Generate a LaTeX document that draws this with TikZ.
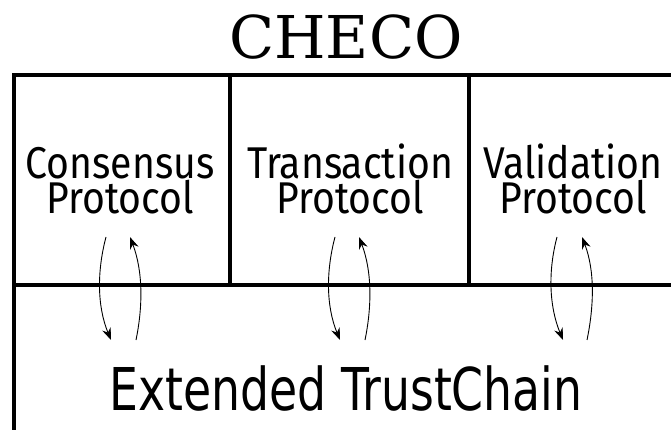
\documentclass[tikz,border=0pt]{standalone}
\usepackage{fontspec}
\newfontfamily\titlefont{DejaVu Serif}
\newfontfamily\protofont[FakeStretch=0.88]{Fira Sans}
\newfontfamily\chainfont[FakeStretch=0.775]{DejaVu Sans}
\usetikzlibrary{arrows.meta}

\begin{document}
\begin{tikzpicture}[x=1pt,y=-1pt,
    layer/.style={line width=4.4pt},
    proto/.style={font=\protofont\fontsize{44.5}{35}\selectfont, align=center, inner sep=0pt, anchor=south},
    flow/.style={line width=0.9pt, -{Stealth[length=12pt,width=9pt]}}]
      \useasboundingbox (0,0) rectangle (671,430);
      % layers
      \draw[layer, line join=miter] (680,75) -- (14,75) -- (14,440);
      \draw[layer] (14,285) -- (680,285);
      \draw[layer] (230,75) -- (230,285);
      \draw[layer] (469,75) -- (469,285);
      % labels
      \node[font=\titlefont\fontsize{59}{60}\selectfont, inner sep=0pt, anchor=base] (checo) at (346,59) {CHECO};
      \node[proto] (consensus)   at (120,214) {Consensus\\Protocol};
      \node[proto] (transaction) at (350,214) {Transaction\\Protocol};
      \node[proto] (validation)  at (573,214) {Validation\\Protocol};
      \node[font=\chainfont\fontsize{59}{60}\selectfont, inner sep=0pt, anchor=base] (chain) at (346,410) {Extended TrustChain};
      % ends of the arrows
      \coordinate (cons_d_top) at (106,237);  \coordinate (cons_d_bot) at (111,340);
      \coordinate (cons_u_bot) at (136,340);  \coordinate (cons_u_top) at (130,237);
      \coordinate (tran_d_top) at (335,237);  \coordinate (tran_d_bot) at (340,340);
      \coordinate (tran_u_bot) at (365,340);  \coordinate (tran_u_top) at (359,237);
      \coordinate (vali_d_top) at (557,237);  \coordinate (vali_d_bot) at (563,340);
      \coordinate (vali_u_bot) at (587,340);  \coordinate (vali_u_top) at (582,237);
      % arrows
      \draw[flow] (cons_d_top) .. controls +(-9,34) and +(-14,-34) .. (cons_d_bot);
      \draw[flow] (cons_u_bot) .. controls +(7,-34) and +(13,34) .. (cons_u_top);
      \draw[flow] (tran_d_top) .. controls +(-9,34) and +(-14,-34) .. (tran_d_bot);
      \draw[flow] (tran_u_bot) .. controls +(7,-34) and +(13,34) .. (tran_u_top);
      \draw[flow] (vali_d_top) .. controls +(-9,34) and +(-14,-34) .. (vali_d_bot);
      \draw[flow] (vali_u_bot) .. controls +(7,-34) and +(13,34) .. (vali_u_top);
\end{tikzpicture}
\end{document}
